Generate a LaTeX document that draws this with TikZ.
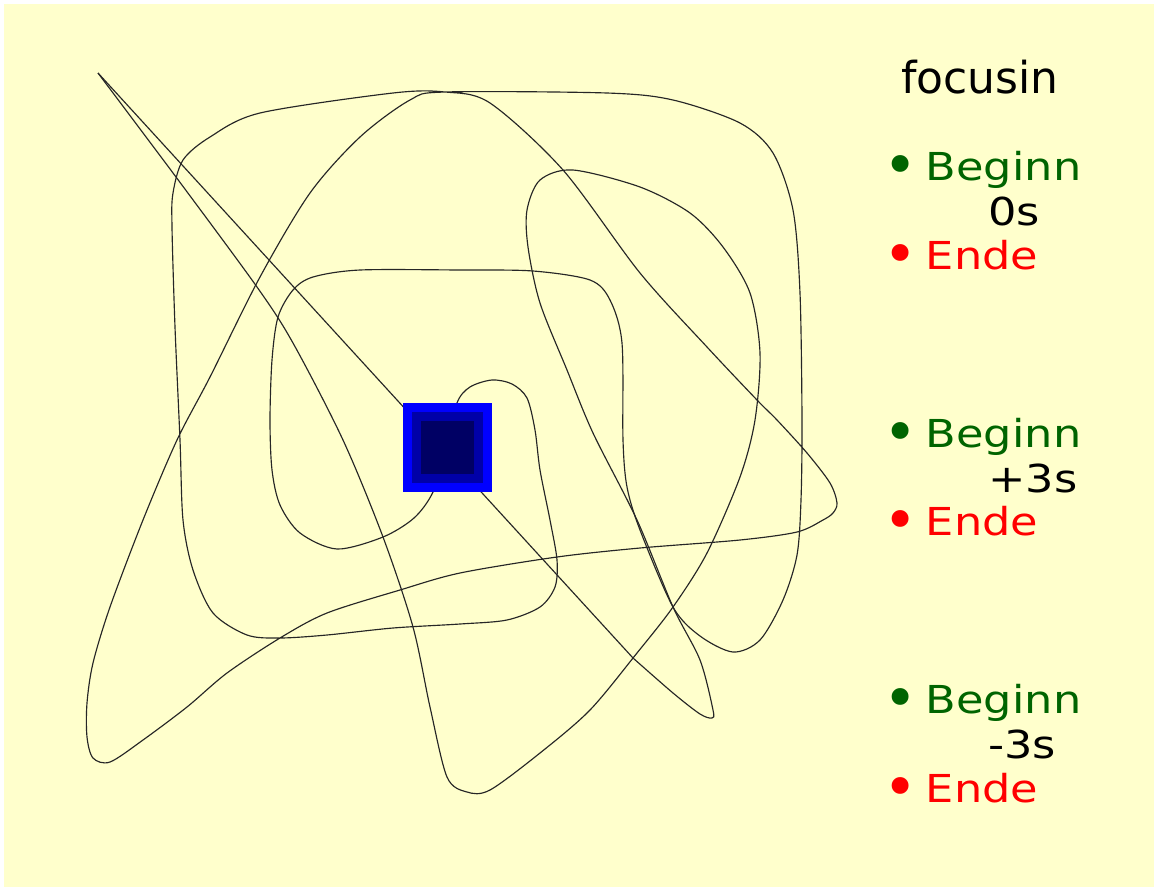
\documentclass[tikz,border=0pt]{standalone}
\usepackage{fontspec}
\usepackage{tikz}
\usetikzlibrary{positioning}
\newfontfamily\ttlfont{DejaVu Sans}
\newfontfamily\lblfont[FakeStretch=1.16]{DejaVu Sans}
\definecolor{cBack}{HTML}{FFFFCC}
\definecolor{cBlue}{HTML}{0000FF}
\definecolor{cMid} {HTML}{0000A8}
\definecolor{cDeep}{HTML}{000064}
\definecolor{cGo}  {HTML}{006400}
\definecolor{cStop}{HTML}{FF0000}
% bullet in front of Beginn / Ende
\newcommand\bul{\makebox[42.6pt][l]{\ttlfont\fontsize{58}{58}\selectfont\raisebox{-5pt}{•}}}
\tikzset{
  mpath/.style={draw=black!85,line width=1.15pt,line join=round},
  lbl/.style={anchor=base west,inner sep=0pt,
              font=\lblfont\fontsize{38.5}{45}\selectfont},
  ttl/.style={anchor=base west,inner sep=0pt,
              font=\ttlfont\fontsize{44}{50}\selectfont},
  sqr/.style={inner sep=0pt,outer sep=0pt,draw=none},
}

\begin{document}
\begin{tikzpicture}[x=1pt,y=-1pt]
    \fill[white] (0,0) rectangle (1154,887);
    \fill[cBack] (4,4) rectangle (1154,887);
    \useasboundingbox (0,0) rectangle (1154,887);
    \coordinate (sq) at (447.5,447.3);
    \coordinate (t1) at (98,73);      % upper left tip
    \coordinate (t2) at (633,658);    % start of the lower right tip
    % long loop through the square
    \draw[mpath] plot[smooth cycle,tension=0.5] coordinates {
      (sq) (433,492) (414,518) (383,537) (337,549) (300,533) (280,505)
      (272,470) (270,420) (272,360) (278,317) (293,290) (313,277) (360,270)
      (460,270) (533,271) (590,280) (610,300) (622,343) (623,440) (627,487)
      (640,530) (673,607) (700,636) (733,652) (760,640) (783,600) (797,555)
      (801,500) (802,420) (800,293) (793,210) (773,153) (740,123) (673,100)
      (607,93) (445,92) (410,100) (360,137) (310,193) (260,277) (210,377)
      (177,440) (143,520) (110,607) (93,663) (87,703) (87,737) (93,758)
      (110,762) (143,740) (187,707) (227,673) (280,638) (327,613) (400,590)
      (460,573) (557,557) (640,548) (740,540) (797,532) (823,520) (833,513)
      (837,503) (830,483) (807,453) (777,420) (757,400) (707,347) (640,273)
      (563,170) (490,103) (445,92) (393,93) (260,113) (210,137) (183,160)
      (173,193) (172,227) (175,327) (180,440) (183,520) (193,570) (213,613)
      (247,635) (280,638) (327,635) (393,628) (460,624) (507,620) (540,607)
      (555,587) (557,560) (550,520) (540,470) (535,430) (527,398) (512,384)
      (492,380) (470,387) (457,403)};
    % second loop, tip to tip
    \draw[mpath] plot[smooth,tension=0.5] coordinates {
      (t1) (176,177) (257,287) (293,343) (343,440) (383,537) (413,627)
      (430,707) (447,777) (467,792) (490,790) (540,753) (590,710) (637,653)
      (673,607) (707,553) (740,477) (755,420) (760,353) (750,293) (723,247)
      (690,213) (640,187) (573,170) (540,180) (527,210) (528,247) (540,303)
      (567,370) (593,433) (637,520) (673,607) (700,660) (713,710) (712,718)
      (700,714) (673,693) (t2)};
    \draw[mpath] (t2) -- (t1);
    % the moving square
    \node[sqr,fill=cBlue,minimum size=89pt] (sqo) at (sq) {};
    \node[sqr,fill=cMid,minimum size=71pt] (sqm) at (sq) {};
    \node[sqr,fill=cDeep,minimum size=53pt] (sqi) at (sq) {};
    % legend
    \node[ttl] (head) at (901,93) {focusin};
    \node[lbl,cGo]   (b1) at (883,180.5) {\bul Beginn};
    \node[lbl]       (o1) at (988,225) {0s};
    \node[lbl,cStop] (e1) at (883,269) {\bul Ende};
    \node[lbl,cGo]   (b2) at (883,447) {\bul Beginn};
    \node[lbl]       (o2) at (988,492) {+3s};
    \node[lbl,cStop] (e2) at (883,535) {\bul Ende};
    \node[lbl,cGo]   (b3) at (883,713) {\bul Beginn};
    \node[lbl]       (o3) at (988,758) {-3s};
    \node[lbl,cStop] (e3) at (883,802) {\bul Ende};
\end{tikzpicture}
\end{document}
